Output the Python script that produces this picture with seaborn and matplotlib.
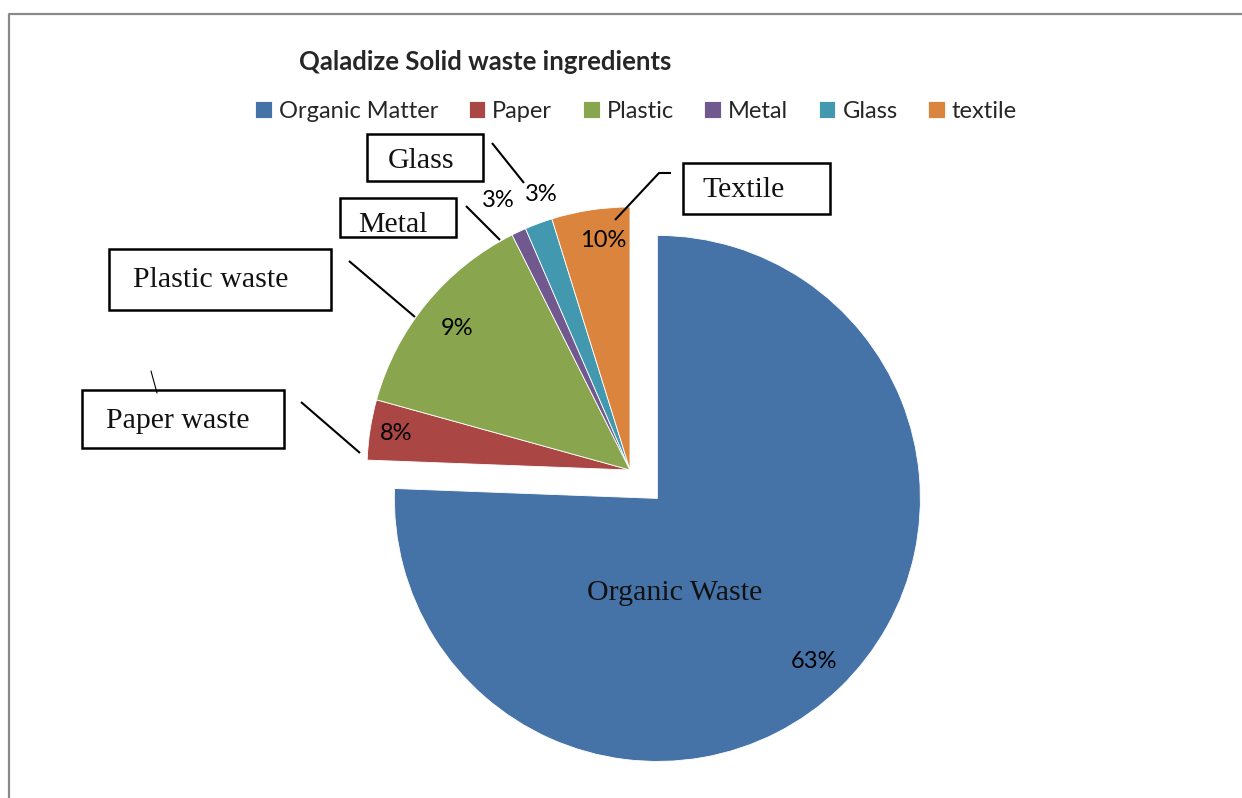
import matplotlib.pyplot as plt
import seaborn as sns
import numpy as np
from matplotlib.patches import Rectangle

# chart values (slice sizes, labels as printed on it)
categories = ['Organic Matter', 'Paper', 'Plastic', 'Metal', 'Glass', 'textile']
shares = [75.6, 3.7, 13.3, 0.9, 1.7, 4.8]
pct_labels = ['63%', '8%', '9%', '3%', '3%', '10%']
callouts = ['Organic Waste', 'Paper waste', 'Plastic waste', 'Metal', 'Glass', 'Textile']
colors = ['#4572A7', '#AA4643', '#89A54E', '#71588F', '#4198AF', '#DB843D']

W, H = 1242, 798

sns.set_theme(style='white')
plt.rcParams['font.family'] = ['Lato', 'DejaVu Sans']
SERIF = 'Liberation Serif'

fig = plt.figure(figsize=(W / 100, H / 100), dpi=100)
ax = fig.add_axes([0, 0, 1, 1])

# pie, one pixel = one data unit, y measured upward
R = 263
cx, cy = 630, H - 470
explode = [0.15 * R, 0, 0, 0, 0, 0]
wedges, _ = ax.pie(shares, colors=sns.color_palette(colors), startangle=90,
                   counterclock=False, radius=R, center=(cx, cy), explode=explode,
                   wedgeprops=dict(edgecolor='white', linewidth=0.6))
ax.set_xlim(0, W)
ax.set_ylim(0, H)
ax.set_aspect('equal')
ax.axis('off')

# percentage labels
pct_dist = [0.86, 0.9, 0.85, 1.14, 1.1, 0.88]
pct_turn = [0, 0, 0, 1, -2.5, -2]
for w, txt, d, t in zip(wedges, pct_labels, pct_dist, pct_turn):
    a = np.deg2rad((w.theta1 + w.theta2) / 2 + t)
    x0, y0 = w.center
    ax.text(x0 + d * w.r * np.cos(a), y0 + d * w.r * np.sin(a), txt,
            ha='center', va='center', fontsize=17, color='black')

# callout boxes (image coordinates: x0, y0, x1, y1) and text centres
boxes = [None, (82, 390, 284, 448), (109, 249, 331, 310), (340, 198, 456, 237),
         (367, 134, 483, 181), (683, 163, 830, 214)]
text_pos = [(675, 593), (178, 421), (211, 280), (393, 225), (421, 161), (744, 190)]
for name, box, (tx, ty) in zip(callouts, boxes, text_pos):
    if box is not None:
        x0, y0, x1, y1 = box
        ax.add_patch(Rectangle((x0, H - y1), x1 - x0, y1 - y0, fill=False,
                               edgecolor='black', linewidth=1.8, clip_on=False))
    ax.text(tx, H - ty, name, ha='center', va='center', family=SERIF,
            fontsize=21.5, color='#111111')

# leader lines
leaders = [[(492, 143), (524, 183)], [(466, 206), (500, 240)],
           [(349, 261), (415, 317)], [(301, 402), (360, 453)],
           [(615, 220), (659, 173), (671, 173)]]
for pts in leaders:
    xs = [p[0] for p in pts]
    ys = [H - p[1] for p in pts]
    ax.plot(xs, ys, color='black', linewidth=1.5, solid_capstyle='butt')
ax.plot([151, 157], [H - 371, H - 393], color='black', linewidth=0.8)

# outer chart frame
ax.plot([9, 9, W], [0, H - 14, H - 14], color='#898989', linewidth=1.6,
        clip_on=False)

# title and legend
fig.text(485 / W, 1 - 62 / H, 'Qaladize Solid waste ingredients', ha='center',
         va='center', fontsize=18.5, fontweight='bold')
fig.legend(wedges, categories, loc='center', bbox_to_anchor=(636 / W, 1 - 111 / H),
           ncol=6, frameon=False, fontsize=17, handlelength=0.7, handleheight=0.7,
           handletextpad=0.3, columnspacing=1.3, borderpad=0)

fig.savefig('out.png', dpi=100)
